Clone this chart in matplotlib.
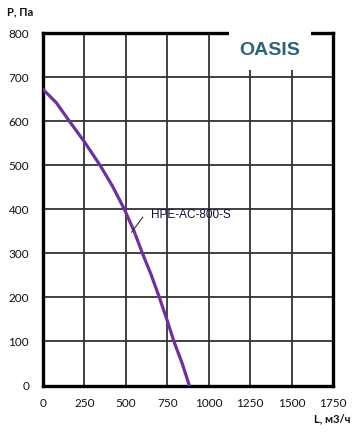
import numpy as np
from matplotlib import pyplot as plt

# кривая вентилятора
rashod = [0, 80, 159, 250, 344, 420, 491, 550, 600, 652, 702, 750, 790, 840, 883]
davlenie = [672, 642, 600, 553, 500, 452, 400, 350, 300, 252, 200, 147, 100, 50, 0]
nazvanie = 'HPE-AC-800-S'

xticks = [0, 250, 500, 750, 1000, 1250, 1500, 1750]
yticks = [0, 100, 200, 300, 400, 500, 600, 700, 800]

plt.rcParams['font.family'] = ['Lato', 'DejaVu Sans']

fig = plt.figure(figsize=(3.57, 4.32), dpi=100)
ax = fig.add_axes([43/357, 1-385.5/432, 290/357, 352.5/432])

ax.set_xlim(0, 1750)
ax.set_ylim(0, 800)
ax.set_xticks(xticks)
ax.set_yticks(yticks)
ax.tick_params(length=0, labelsize=8.5, colors='#111111')
ax.tick_params(axis='x', pad=9)
ax.tick_params(axis='y', pad=10)
ax.grid(True, color='#333333', lw=1.3)
ax.set_axisbelow(True)
for s in ax.spines.values():
    s.set_linewidth(2.4)
    s.set_color('black')

ax.plot(rashod, davlenie, color='#7030A0', lw=2.3, zorder=3)

# подпись кривой
ax.plot([535, 602], [348, 382], color='#333333', lw=0.8, zorder=4)
ax.text(652, 387, nazvanie, fontsize=8.5, va='center', ha='left',
        color='#10103a', family='Liberation Sans', zorder=4)

# логотип
ax.text(1370, 760, 'OASIS', fontsize=14, fontweight='bold', color='#2b6479',
        ha='center', va='center', zorder=4, family='Liberation Sans',
        bbox=dict(boxstyle='square,pad=0.55', fc='white', ec='none'))

fig.text(7/357, 1-12/432, 'P, Па', fontsize=8, fontweight='bold',
         va='center', ha='left', color='#111111')
fig.text(350/357, 1-419/432, 'L, м3/ч', fontsize=8, fontweight='bold',
         va='center', ha='right', color='#111111')

plt.savefig('out.png', dpi=100)
